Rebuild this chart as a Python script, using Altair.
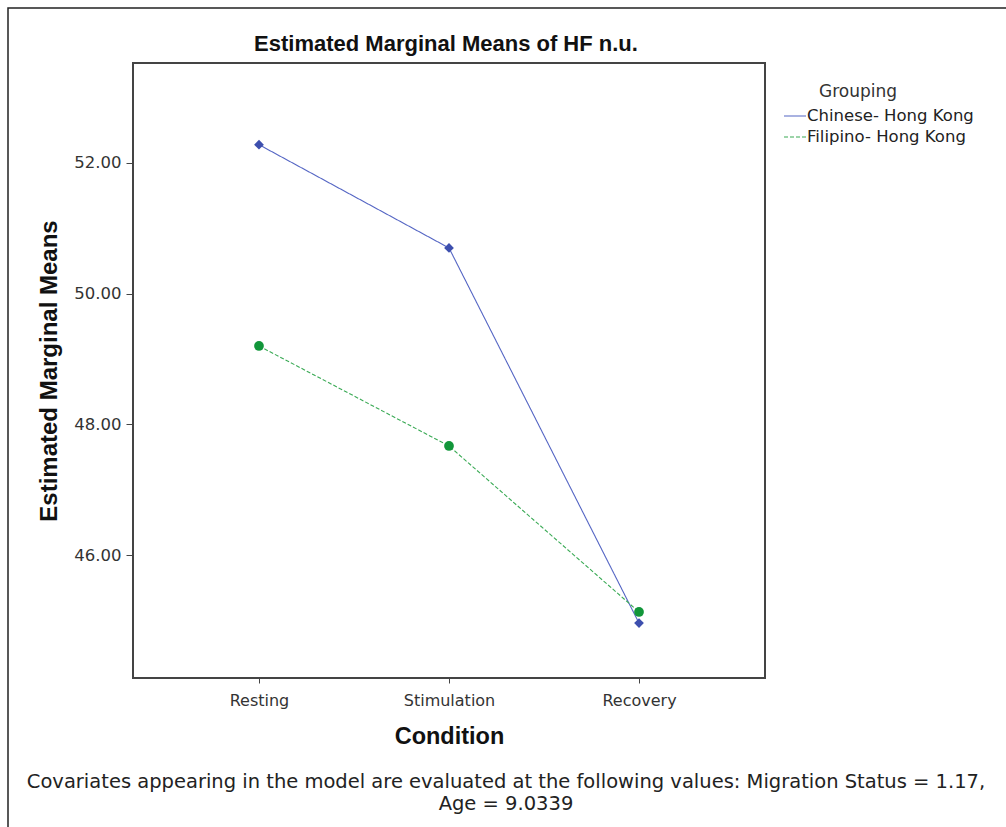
import altair as alt
import pandas as pd

# Estimated marginal means of HF n.u. by condition and grouping
conditions = ["Resting", "Stimulation", "Recovery"]
groups = ["Chinese- Hong Kong", "Filipino- Hong Kong"]
chinese_means = [52.28, 50.70, 44.96]
filipino_means = [49.20, 47.67, 45.13]
y_ticks = [46, 48, 50, 52]

line_colors = ["#5566c4", "#3aaa55"]
line_dashes = [[1, 0], [4, 2]]
marker_colors = ["#3d4fae", "#12963a"]
marker_shapes = ["diamond", "circle"]

title_text = "Estimated Marginal Means of HF n.u."
legend_title = "Grouping"
footnote = [
    "Covariates appearing in the model are evaluated at the following values: Migration Status = 1.17,",
    "Age = 9.0339",
]

rows = []
for g, vals in zip(groups, [chinese_means, filipino_means]):
    for c, v in zip(conditions, vals):
        rows.append({"Condition": c, "Grouping": g, "Mean": v})
df = pd.DataFrame(rows)
legend_df = pd.DataFrame({"Grouping": groups})
one = pd.DataFrame({"k": [0]})

W, H = 632, 615

x_enc = alt.X(
    "Condition:N",
    sort=conditions,
    scale=alt.Scale(type="point", padding=0.663),
    axis=alt.Axis(
        title="Condition",
        labelFont="DejaVu Sans",
        labelFontSize=16,
        labelColor="#333333",
        labelAngle=0,
        labelPadding=9,
        tickSize=5,
        tickColor="#444444",
        domain=False,
        titleFont="Liberation Sans",
        titleFontSize=23.5,
        titleFontWeight="bold",
        titleColor="#111111",
        titlePadding=16,
    ),
)
y_scale = alt.Scale(domain=[44.12, 53.53], nice=False, zero=False)
y_enc = alt.Y(
    "Mean:Q",
    scale=y_scale,
    axis=alt.Axis(
        title="Estimated Marginal Means",
        values=y_ticks,
        format=".2f",
        labelFont="DejaVu Sans",
        labelFontSize=16.5,
        labelColor="#333333",
        labelPadding=5,
        tickSize=7,
        tickColor="#444444",
        domain=False,
        grid=False,
        titleFont="Liberation Sans",
        titleFontSize=24,
        titleFontWeight="bold",
        titleColor="#111111",
        titlePadding=12,
    ),
)

color_enc = alt.Color(
    "Grouping:N",
    sort=groups,
    scale=alt.Scale(domain=groups, range=line_colors),
    legend=None,
)
dash_enc = alt.StrokeDash(
    "Grouping:N",
    sort=groups,
    scale=alt.Scale(domain=groups, range=line_dashes),
    legend=None,
)

lines = alt.Chart(df).mark_line(strokeWidth=1.1).encode(
    x=x_enc, y=y_enc, color=color_enc, strokeDash=dash_enc
)

# one marker layer per group: diamonds for Chinese, circles for Filipino
marker_layers = []
for g, col, shp in zip(groups, marker_colors, marker_shapes):
    marker_layers.append(
        alt.Chart(df)
        .transform_filter(alt.datum.Grouping == g)
        .mark_point(filled=True, opacity=1, size=95, shape=shp, color=col)
        .encode(x=x_enc, y=alt.Y("Mean:Q", scale=y_scale, axis=None))
    )

# legend rows: a short line sample followed by the group name
legend_y = alt.Y(
    "Grouping:N",
    sort=groups,
    scale=alt.Scale(type="point", domain=groups, range=[53, 74], padding=0),
    axis=None,
)
legend_lines = alt.Chart(legend_df).mark_rule(strokeWidth=1.2).encode(
    x=alt.value(651),
    x2=alt.value(673),
    y=legend_y,
    color=color_enc,
    strokeDash=dash_enc,
)
legend_labels = alt.Chart(legend_df).mark_text(
    font="DejaVu Sans",
    fontSize=16.5,
    color="#222222",
    align="left",
    baseline="middle",
).encode(
    x=alt.value(674),
    y=legend_y,
    text="Grouping:N",
)

heading = alt.Chart(one).mark_text(
    font="Liberation Sans",
    fontSize=22,
    fontWeight="bold",
    color="#111111",
    align="center",
    baseline="middle",
).encode(
    x=alt.value(W / 2 - 3),
    y=alt.value(-19),
    text=alt.value(title_text),
)

legend_heading = alt.Chart(one).mark_text(
    font="DejaVu Sans",
    fontSize=17,
    color="#333333",
    align="center",
    baseline="middle",
).encode(
    x=alt.value(725),
    y=alt.value(29),
    text=alt.value(legend_title),
)

note = alt.Chart(one).mark_text(
    font="DejaVu Sans",
    fontSize=19.5,
    color="#222222",
    align="center",
    baseline="middle",
    lineHeight=22,
).encode(
    x=alt.value(373),
    y=alt.value(718.5),
    text=alt.value(footnote),
)

frame = alt.Chart(one).mark_rect(fill=None, stroke="#222222", strokeWidth=1.5).encode(
    x=alt.value(-125),
    x2=alt.value(890),
    y=alt.value(-55),
    y2=alt.value(780),
)

chart = (
    alt.layer(
        frame, lines, *marker_layers, legend_lines, legend_labels,
        heading, legend_heading, note,
    )
    .resolve_scale(y="independent")
    .properties(
        width=W,
        height=H,
        autosize=alt.AutoSizeParams(type="none"),
        padding={"left": 133, "top": 63, "right": 241, "bottom": 149},
        background="white",
    )
    .configure_view(stroke="#444444", strokeWidth=2)
)

chart.save("out.html", embed_options={"renderer": "svg", "actions": False})
